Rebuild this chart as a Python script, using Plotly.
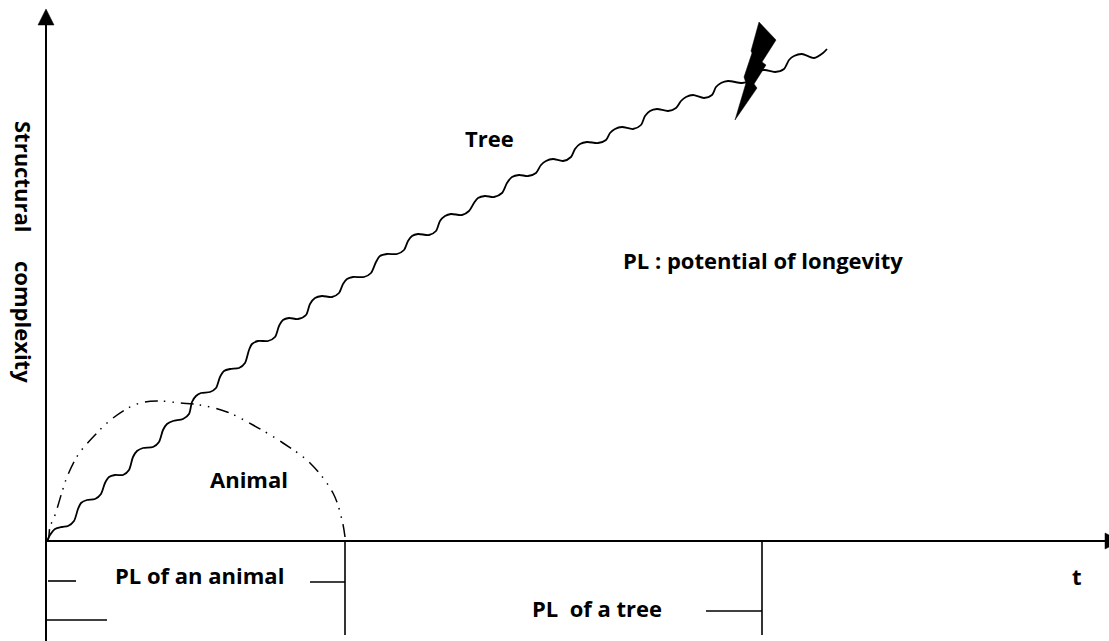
import plotly.graph_objects as go

# time (x) and structural complexity (y), origin at the axes' crossing
tree_t = [1,4,9,16,22,28,32,35,41,49,55,59,63,69,77,83,87,91,97,107,113,117,121,127,137,143,146,150,155,164,170,174,178,184,193,199,203,206,212,222,229,233,237,243,252,260,264,269,276,286,293,297,301,307,318,325,330,334,341,351,358,362,366,372,383,390,394,399,405,416,423,428,432,439,448,456,461,466,473,482,490,495,500,507,517,525,529,534,541,552,560,564,569,576,587,595,599,604,611,622,630,635,640,647,658,666,670,675,682,696,703,708,712,719,729,738,743,748,756,768,777,781]
tree_c = [0,6,12,14,15,20,32,38,41,42,47,58,64,66,66,71,84,90,93,94,99,111,117,120,122,127,139,145,148,149,153,164,170,172,173,178,191,197,200,200,204,215,221,223,222,226,237,243,245,244,248,257,262,264,264,268,279,285,287,287,291,300,305,307,306,310,320,325,327,326,330,338,343,345,344,348,358,364,366,365,368,376,380,382,380,384,392,397,399,398,401,408,412,414,412,416,425,430,432,430,433,440,444,446,443,446,454,458,460,458,460,466,470,471,469,472,481,485,487,483,488,492]

animal_t = [0,2,4,9,16,21,32,49,67,91,111,134,154,181,207,237,264,287,296,299]
animal_c = [0,1,14,26,49,64,86,106,123,137,140,138,136,129,116,98,78,48,21,4]

bolt_t = [713,730,716,720,708,711,689,700,698,706,705,713]
bolt_c = [519,501,479,476,457,453,421,458,464,488,490,519]

axis_t = [0,0,None,0,1063]
axis_c = [-100,520,None,0,0]
head_t = [-8,0,8,-8,None,1059,1075,1059,1059]
head_c = [516,532,516,516,None,8,0,-8,8]

span_t = [299,299,None,716,716,None,2,30,None,264,299,None,0,61,None,660,716]
span_c = [0,-94,None,0,-94,None,-40,-40,None,-41,-41,None,-79,-79,None,-70,-70]

labels = ["Tree","PL : potential of longevity","Animal","PL of an animal","t","PL  of a tree"]
label_t = [443,717,203,153,1031,551]
label_c = [403,281,62,-34,-35,-67]
axis_title = "Structural\u00a0\u00a0\u00a0\u00a0\u00a0complexity"

FONT = dict(family="Open Sans", size=22, color="#000000", weight="bold")
fig = go.Figure()
fig.add_trace(go.Scatter(x=axis_t, y=axis_c, mode="lines", line=dict(color="#000", width=2)))
fig.add_trace(go.Scatter(x=head_t, y=head_c, mode="lines", fill="toself", fillcolor="#000", line=dict(color="#000", width=0.5)))
fig.add_trace(go.Scatter(x=span_t, y=span_c, mode="lines", line=dict(color="#000", width=1.6)))
fig.add_trace(go.Scatter(x=animal_t, y=animal_c, mode="lines",
                         line=dict(color="#000", width=1.5, shape="spline", smoothing=1,
                                   dash="13px,6px,1.5px,7px,1.5px,7px")))
fig.add_trace(go.Scatter(x=tree_t, y=tree_c, mode="lines",
                         line=dict(color="#000", width=1.8, shape="spline", smoothing=0.75)))
fig.add_trace(go.Scatter(x=bolt_t, y=bolt_c, mode="lines", fill="toself", fillcolor="#000", line=dict(color="#000", width=0.5)))

for s, x, y in zip(labels, label_t, label_c):
    fig.add_annotation(x=x, y=y, text=s, showarrow=False, font=FONT, xanchor="center", yanchor="middle")
fig.add_annotation(x=-22, y=289, text=axis_title, textangle=90, showarrow=False, font=FONT,
                   xanchor="center", yanchor="middle")

fig.update_xaxes(range=[-46,1063], visible=False, fixedrange=True)
fig.update_yaxes(range=[-100,541], visible=False, fixedrange=True)
fig.update_layout(width=1109, height=641, margin=dict(l=0,r=0,t=0,b=0), showlegend=False,
                  plot_bgcolor="#fff", paper_bgcolor="#fff")
fig.write_html("out.html", config=dict(displayModeBar=False),
               post_script="document.body.style.margin='0';document.body.style.overflow='hidden';")
